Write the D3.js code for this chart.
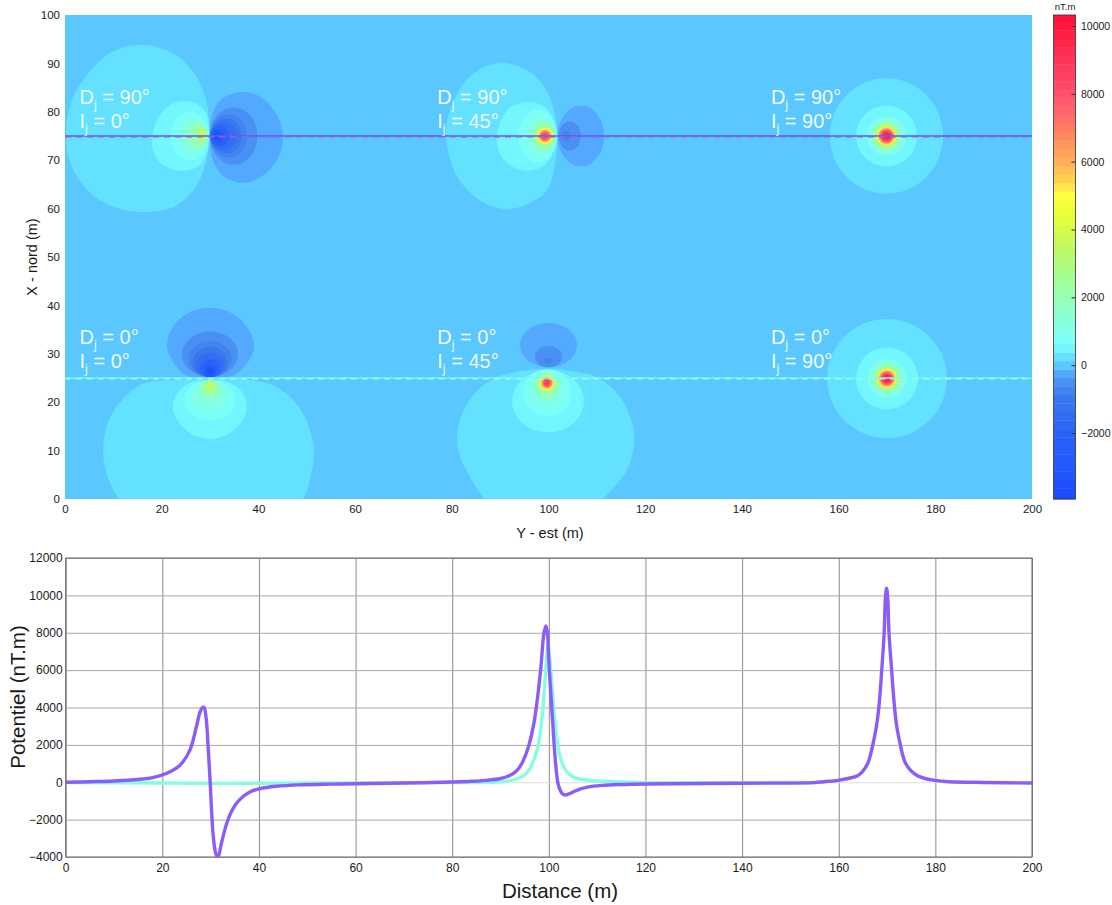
<!DOCTYPE html>
<html><head><meta charset="utf-8">
<script src="https://cdn.jsdelivr.net/npm/d3@7/dist/d3.min.js"></script>
<style>
html,body{margin:0;padding:0;background:#fff}
svg{display:block}
text{font-family:"Liberation Sans",Arial,sans-serif;fill:#1a1a1a}
</style></head><body><svg id="c" width="1112" height="905"></svg>
<script>
// ---------- profile values ----------
const purpleX = [0,5,10,15,18,20.8,23.6,25.7,27.05,27.8,28.3,28.65,29.1,29.5,29.9,30.5,31,31.5,32.2,33.3,34.6,36,38.1,40.2,43.6,48.4,55,60,70,80,84,87,90,91.8,93.3,94.4,95.1,95.9,96.8,97.4,98.3,99,99.4,99.7,99.9,100.1,100.6,101.1,101.4,101.85,102.3,102.8,103.3,104,105,106.4,108,111,115,120,140,155,156.9,159.9,161.9,163.9,165,166,166.5,167.05,167.8,168.3,168.9,169.4,169.65,169.9,170.15,170.4,170.95,171.55,172,172.75,173.3,173.85,175,176.3,177.9,179.9,182.9,190,200];
const purpleV = [0,30,70,150,250,470,900,1720,2970,3750,3990,4000,3350,1800,0,-2760,-3750,-4050,-3300,-2220,-1420,-930,-520,-340,-215,-140,-100,-80,-40,15,50,100,200,350,600,1000,1400,2000,3000,4000,6000,8000,8370,8000,7000,6000,4000,2000,1000,0,-400,-620,-680,-640,-520,-370,-260,-170,-120,-90,-50,-20,30,100,200,350,600,1000,1400,2000,3000,4000,6000,8000,9800,10380,9800,8000,6000,4000,3000,2000,1400,1000,600,350,200,100,30,-10,-40];
const cyanX = [0,20,30,40,60,80,90,92.6,94.5,95.4,96.2,96.75,97.4,97.85,98.8,99.35,99.7,99.85,100,100.4,101,101.35,101.85,102.3,102.8,103.9,105,106,108.5,111.2,120,140,155];
const cyanV = [-20,-40,-60,-50,-40,-20,20,130,300,500,800,1100,1600,2000,4000,6000,7100,7340,7100,6000,4000,3000,2000,1400,1000,500,300,200,100,50,-20,-20,-10];

// ---------- axis ticks ----------
const mapXTicks = [0,20,40,60,80,100,120,140,160,180,200];
const mapYTicks = [0,10,20,30,40,50,60,70,80,90,100];
const barTicks = [-2000,0,2000,4000,6000,8000,10000];
const profileYTicks = [-4000,-2000,0,2000,4000,6000,8000,10000,12000];

// ---------- colour bar ----------
const barStopValues = [-3950,-2000,-1000,-500,-250,0,300,600,1500,2500,3500,4400,5000,5500,6000,7000,8000,10300];
const barStopColors = ["#1a4cff","#2a62f8","#3878ec","#4a90f2","#52a8ff","#5ac8ff","#66e6ff","#78ffff","#8cffd0","#a0ff98","#c0f860","#e8ff38","#ffff40","#ffd050","#ffb058","#ff7c60","#ff5070","#ff1038"];

// ---------- flight lines and annotations ----------
const flightLines = [75, 25];
const annotationD = ["90°","90°","90°","0°","0°","0°"];
const annotationI = ["0°","45°","90°","0°","45°","90°"];
const annotationAt = [[3,81.7],[77,81.7],[146,81.7],[3,32.1],[77,32.1],[146,32.1]];

// ---------- contour outlines: [x, y] in metres ----------
const outlines = [
 {v:300, p:[[29.8,75],[29.4,81.4],[27.5,86.6],[23.8,91.1],[19.6,93.2],[16.1,93.8],[12.4,93.4],[8.3,91.5],[4.1,87],[1.4,82.4],[0.2,76.2],[0.6,71.1],[2.7,66.3],[6.2,62.4],[11.4,59.9],[17.2,59.3],[22.8,60.5],[26.9,64.3],[29,69]]},
 {v:600, p:[[29.8,75],[29.4,79.3],[27.9,81.2],[25.4,82.2],[22.1,81.6],[19.6,79.3],[18.2,75.8],[18.2,72.1],[19.6,69.6],[22.1,68.2],[25,67.8],[27.9,69],[29.4,71.7]]},
 {v:-250,p:[[30,75],[30.4,79.3],[32.1,82.4],[36.6,84.1],[40.7,82.9],[43.8,79.3],[45.1,74.8],[43.8,70],[40.7,66.7],[36.6,65.3],[32.5,66.9],[30.4,70.5]]},
 {v:300, p:[[101.8,75],[101.1,80.4],[99.3,84.9],[96.2,88.2],[91,90.1],[86.9,89.3],[82.7,86.2],[80,81.4],[78.8,76.2],[79.4,71.1],[81.3,66.3],[84.8,62.4],[88.9,60.3],[92,59.9],[96.2,61.2],[99.7,63.8],[101.3,69]]},
 {v:600, p:[[101.8,75],[100.9,78.7],[98.9,81.2],[95.6,82],[92,80.8],[90.2,78.3],[89.3,75],[89.9,71.5],[92,69],[95.6,67.8],[98.9,68.8],[100.9,71.5]]},
 {v:-250,p:[[30,25.2],[25.4,25.4],[22.8,27.7],[21.1,31.4],[22.1,35.3],[25.4,38.4],[30,39.5],[34.5,38.4],[37.8,35.3],[39.1,31.4],[37.4,27.7],[34.5,25.4]]},
 {v:300, p:[[30,24.8],[21.7,24.6],[16.1,23.8],[11.4,20],[8.7,15.3],[7.9,9.7],[8.9,4.3],[11.2,0],[14.5,-3.3],[21.7,-6],[30,-7],[38.3,-6],[45.5,-3.3],[49.2,0],[50.7,4.3],[51.5,9.7],[50.3,15.3],[47.6,20],[43.4,23.3],[38.3,24.6]]},
 {v:600, p:[[30,24.6],[25.9,24],[23.4,22.1],[22.3,19.4],[23.2,16.3],[25.9,13.6],[30,12.4],[34.1,13.6],[36.8,16.3],[37.6,19.4],[36.6,22.1],[34.1,24]]},
 {v:300, p:[[99.7,26.9],[89.3,25.2],[84.2,21.1],[81.9,16.9],[81.1,13.2],[81.5,9.5],[83.3,5.4],[86.9,-0.2],[91,-3.7],[99.3,-6],[107.5,-3.7],[111.1,-0.2],[116.2,6],[117.7,11.6],[117.3,15.7],[114.8,21.1],[110,25.2],[104.9,26.4]]}
];

// ---------- rounder contours: [value, cx, cy, rx, ry] in metres ----------
const rings = [
 // D90 I0
 [800,25.8,75,4,5],[1100,26.5,75,3.2,4],[1500,27.1,75,2.5,3],[2000,27.6,75,1.9,2.3],[2600,28,75.2,1.4,1.7],[3200,28.3,75.3,1,1.2],[3800,28.5,75.4,.6,.7],
 [-500,34.9,75,4.9,5.9],[-800,33.8,75,3.8,4.5],[-1100,33.3,75,3.2,3.6],[-1500,32.8,75,2.7,2.9],[-2000,32,75,1.9,2.2],[-2800,31.6,75,1.3,1.3],[-3600,31.5,75,.7,.8],
 // D90 I45
 [800,97.8,75,4,5.5],[1000,98.3,75,3.4,4.4],[1400,98.8,75,2.8,3.2],[2200,99.1,75,2.2,2.4],[3200,99.2,75,1.9,1.9],[4500,99.3,75,1.7,1.7],[5500,99.3,75,1.45,1.45],[6500,99.3,75,1.2,1.2],[7500,99.3,75,1,1],[8300,99.3,75,.6,.6],
 [-250,106.7,75,4.8,6.3],[-500,104.4,75,2.3,3],[-750,103.6,75,.8,1],
 // D90 I90
 [300,169.9,75,11.7,11.9],[600,169.9,75,6.3,6.3],[900,169.9,75,4,4],[1400,169.9,75,3.2,3.2],[2200,169.9,75,2.7,2.7],[3200,169.9,75,2.3,2.3],[4500,169.9,75,2,2],[5500,169.9,75,1.8,1.8],[6500,169.9,75,1.6,1.6],[8000,169.9,75,1.3,1.3],[9500,169.9,75,.9,.9],
 // D0 I0
 [-500,30,29.9,5.8,4.7],[-800,30,28.9,4.5,3.7],[-1100,30,28.3,3.6,3.1],[-1500,30,27.7,2.9,2.5],[-2000,30,27,2.1,1.9],[-2800,30,26.5,1.3,1.2],[-3600,30,26.4,.7,.7],
 [800,30,20.4,5.4,4.1],[1000,30,21.3,4,3.2],[1300,30,22,3,2.5],[1800,30,22.6,2.2,1.9],[2400,30,23,1.6,1.4],[3000,30,23.4,1,1],[3700,30,23.6,.5,.5],
 // D0 I45
 [-250,100,31.8,5.9,4.55],[-500,100,29.4,2.8,2.2],[-750,100,28.6,.9,.55],
 [600,99.9,20.2,7.45,6.4],[800,99.8,22,5,4.8],[1100,99.8,22.6,3.8,3.9],[1700,99.7,23.3,2.7,2.8],[2500,99.7,23.7,2,2.1],[4000,99.7,24,1.6,1.6],[5500,99.7,24,1.3,1.3],[6500,99.7,24,1.1,1.1],[7500,99.7,24,.9,.9],[8500,99.7,24,.6,.6],
 // D0 I90
 [300,170,24.9,12.4,12.3],[600,170,24.9,6.4,6.4],[900,170,24.9,4,4],[1400,170,24.9,3.2,3.2],[2200,170,24.9,2.7,2.7],[3200,170,24.9,2.3,2.3],[4500,170,24.9,2,2],[5500,170,24.9,1.8,1.8],[6500,170,24.9,1.6,1.6],[8000,170,24.9,1.3,1.3],[9500,170,24.9,.9,.9]
];

// ---------- layout ----------
const svg = d3.select("#c");
const mapX = d3.scaleLinear().domain([0,200]).range([65,1032]);
const mapY = d3.scaleLinear().domain([0,100]).range([499,15]);
const barY = d3.scaleLinear().domain([-2000,10000]).range([433,26]);
const profX = d3.scaleLinear().domain([0,200]).range([65.7,1032]);
const profY = d3.scaleLinear().domain([-4000,12000]).range([857,558]);

const rawColor = d3.scaleLinear().domain(barStopValues).range(barStopColors).interpolate(d3.interpolateRgb).clamp(true);
const bandStep = 250;
const band = v => rawColor(Math.round(v/bandStep)*bandStep);

const defs = svg.append("defs");
defs.append("clipPath").attr("id","mapClip").append("rect")
  .attr("x",65).attr("y",15).attr("width",967).attr("height",484);
defs.append("clipPath").attr("id","profClip").append("rect")
  .attr("x",65.7).attr("y",558).attr("width",966.3).attr("height",299);
defs.append("filter").attr("id","soft").attr("x","-2%").attr("y","-2%").attr("width","104%").attr("height","104%")
  .append("feGaussianBlur").attr("stdDeviation",0.55);

// ---------- map ----------
const mapG = svg.append("g").attr("clip-path","url(#mapClip)");
const field = mapG.append("g").attr("filter","url(#soft)");
field.append("rect").attr("x",60).attr("y",10).attr("width",980).attr("height",495).attr("fill",band(0));

const shapeLine = d3.line().x(d=>mapX(d[0])).y(d=>mapY(d[1])).curve(d3.curveCatmullRomClosed.alpha(.5));
const shapes = outlines.map(o=>({v:o.v,d:shapeLine(o.p)}))
 .concat(rings.map(r=>{
   const rx=Math.abs(mapX(r[3])-mapX(0)), ry=Math.abs(mapY(r[4])-mapY(0)), cx=mapX(r[1]), cy=mapY(r[2]);
   return {v:r[0],d:`M${cx-rx},${cy}A${rx},${ry} 0 1 0 ${cx+rx},${cy}A${rx},${ry} 0 1 0 ${cx-rx},${cy}Z`};
 }))
 .sort((a,b)=>Math.abs(a.v)-Math.abs(b.v));
field.selectAll("path.c").data(shapes).join("path").attr("class","c").attr("d",d=>d.d).attr("fill",d=>band(d.v));

// flight lines
const lineColors = [["#4f62f0","#a552e6"],["#74f2ff","#96ffd6"]];
flightLines.forEach((y,i)=>{
  const base = d3.line().x(d=>mapX(d)).y(()=>mapY(y));
  mapG.append("path").attr("d",base([0,200])).attr("fill","none").attr("stroke",lineColors[i][0]).attr("stroke-width",1.6);
  mapG.append("path").attr("d",base([0,200])).attr("transform","translate(0,0.8)").attr("fill","none").attr("stroke",lineColors[i][1]).attr("stroke-width",1.6).attr("stroke-dasharray","6 5");
});

// annotations
annotationAt.forEach((a,i)=>{
  const g = svg.append("g").attr("transform",`translate(${mapX(a[0])},${mapY(a[1])})`);
  [["D",annotationD[i],0],["I",annotationI[i],24.5]].forEach(t=>{
    const el = g.append("text").attr("y",t[2]).style("fill","#fff").style("font-size","20px").attr("fill-opacity",.92);
    el.append("tspan").text(t[0]);
    el.append("tspan").text("j").attr("dy",5).style("font-size","12.5px");
    el.append("tspan").text(" = "+t[1]).attr("dy",-5);
  });
});

// map axes
const mapBottom = svg.append("g").attr("transform","translate(0,499)")
  .call(d3.axisBottom(mapX).tickValues(mapXTicks).tickSize(0).tickPadding(6).tickFormat(d3.format("d")));
const mapLeft = svg.append("g").attr("transform","translate(65,0)")
  .call(d3.axisLeft(mapY).tickValues(mapYTicks).tickSize(0).tickPadding(5).tickFormat(d3.format("d")));
[mapBottom,mapLeft].forEach(a=>{a.select(".domain").remove();a.selectAll("text").style("font-size","11.5px").style("fill","#1a1a1a").style("font-family",'"Liberation Sans",Arial,sans-serif');});
svg.append("text").attr("x",550).attr("y",538).attr("text-anchor","middle").style("font-size","14.5px").text("Y - est (m)");
svg.append("text").attr("transform","translate(37,257) rotate(-90)").attr("text-anchor","middle").style("font-size","14.5px").text("X - nord (m)");

// ---------- colour bar ----------
const barBands = d3.range(-4000,10500,bandStep);
const barTop = 15, barBottom = 499;
svg.append("g").selectAll("rect").data(barBands).join("rect")
  .attr("x",1053.5).attr("width",22)
  .attr("y",d=>Math.max(barTop,barY(d+bandStep/2)))
  .attr("height",d=>Math.max(0,Math.min(barBottom,barY(d-bandStep/2))-Math.max(barTop,barY(d+bandStep/2)))+0.4)
  .attr("fill",d=>band(d));
svg.append("rect").attr("x",1053.5).attr("y",barTop).attr("width",22).attr("height",barBottom-barTop)
  .attr("fill","none").attr("stroke","#333").attr("stroke-width",.8);
const barAxis = svg.append("g").attr("transform","translate(1075.5,0)")
  .call(d3.axisRight(barY).tickValues(barTicks).tickSize(0).tickPadding(5.5).tickFormat(d3.format("d")));
barAxis.select(".domain").remove();
barAxis.selectAll("text").style("font-size","10.5px").style("fill","#1a1a1a").style("font-family",'"Liberation Sans",Arial,sans-serif');
barAxis.selectAll(".tick").append("line").attr("x1",-4).attr("x2",0).attr("stroke","#333");
svg.append("text").attr("x",1065).attr("y",10).attr("text-anchor","middle").style("font-size","9.5px").text("nT.m");

// ---------- profile ----------
const xAx = svg.append("g").attr("transform","translate(0,857)")
  .call(d3.axisBottom(profX).tickValues(mapXTicks).tickSize(-299).tickPadding(6).tickFormat(d3.format("d")));
const yAx = svg.append("g").attr("transform","translate(65.7,0)")
  .call(d3.axisLeft(profY).tickValues(profileYTicks).tickSize(-966.3).tickPadding(3).tickFormat(d3.format("d")));
xAx.selectAll(".tick line").attr("stroke","#8a8a8a");
yAx.selectAll(".tick line").attr("stroke",d=>d===0?"#dddddd":"#a8a8a8");
[xAx,yAx].forEach(a=>{a.select(".domain").remove();a.selectAll("text").style("font-size","12px").style("fill","#1a1a1a").style("font-family",'"Liberation Sans",Arial,sans-serif');});
svg.append("rect").attr("x",65.7).attr("y",558).attr("width",966.3).attr("height",299).attr("fill","none").attr("stroke","#666").attr("stroke-width",1);

const curve = d3.line().x(d=>profX(d[0])).y(d=>profY(d[1])).curve(d3.curveCatmullRom.alpha(.5));
const lines = svg.append("g").attr("clip-path","url(#profClip)");
lines.append("path").attr("d",curve(cyanX.map((x,i)=>[x,cyanV[i]]))).attr("fill","none").attr("stroke","#84fde0").attr("stroke-width",3.4);
lines.append("path").attr("d",curve(purpleX.map((x,i)=>[x,purpleV[i]]))).attr("fill","none").attr("stroke","#8c5cfa").attr("stroke-width",3.4).attr("stroke-linejoin","round");

svg.append("text").attr("x",560).attr("y",898).attr("text-anchor","middle").style("font-size","20.5px").text("Distance (m)");
svg.append("text").attr("transform","translate(25,697) rotate(-90)").attr("text-anchor","middle").style("font-size","20.5px").text("Potentiel (nT.m)");
</script></body></html>
